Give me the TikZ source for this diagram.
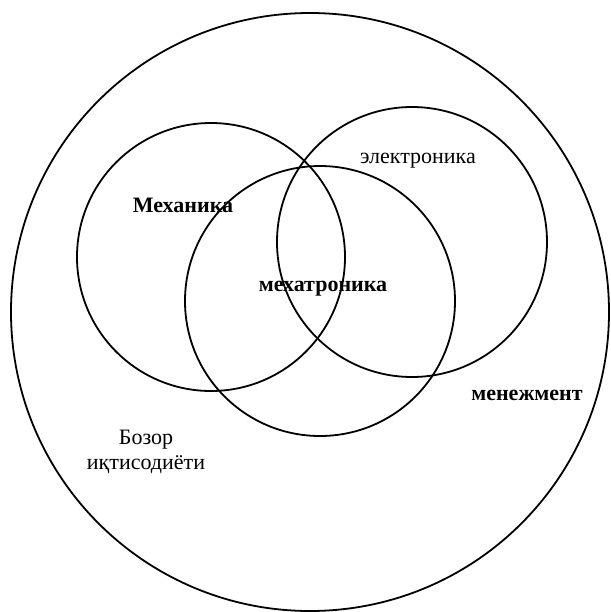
\documentclass[tikz,border=0pt]{standalone}
\usepackage{fontspec}
\setmainfont{Liberation Serif}
\usetikzlibrary{positioning}

\begin{document}
\begin{tikzpicture}[x=0.5pt, y=-0.5pt, every node/.style={font=\fontsize{11}{13}\selectfont}, ring/.style={draw, circle, line width=0.9pt, inner sep=0pt}, lbl/.style={align=center}]
\useasboundingbox (0,0) rectangle (611,612);
\node[ring, minimum size=299pt] (market) at (310,312) {};
\node[ring, minimum size=134pt] (mech) at (211,257) {};
\node[ring, minimum size=135pt] (elec) at (412,242) {};
\node[ring, minimum size=135pt] (third) at (320,301) {};
\node[lbl, font=\fontsize{11}{13}\selectfont\bfseries] (mechtext) at (183,205) {Механика};
\node[lbl] (electext) at (418,161) {электроника};
\node[lbl, font=\fontsize{11}{13}\selectfont\bfseries] (mtrtext) at (323,289) {мехатроника};
\node[lbl, font=\fontsize{11}{13}\selectfont\bfseries] (mgmttext) at (527,395) {менежмент};
\node[lbl, font=\fontsize{11}{12.5}\selectfont] (markettext) at (146,452) {Бозор\\иқтисодиёти};
\end{tikzpicture}
\end{document}
